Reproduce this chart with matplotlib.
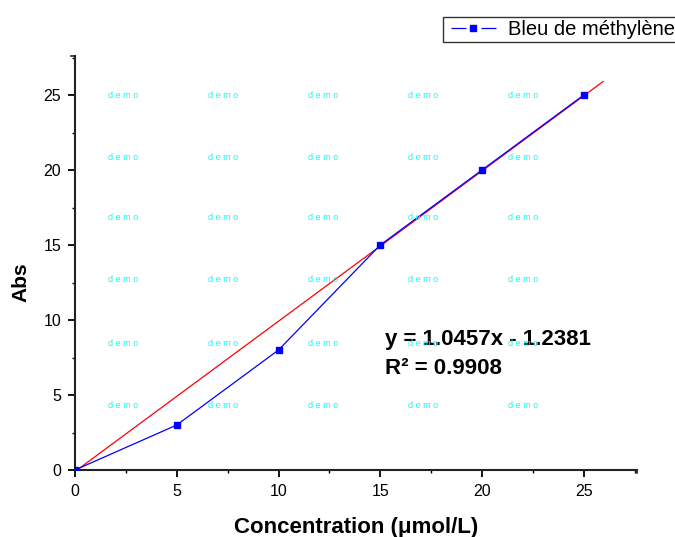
import numpy as np
import matplotlib
matplotlib.use("Agg")
import matplotlib.pyplot as plt
from matplotlib.ticker import MultipleLocator
from matplotlib.lines import Line2D

plt.rcParams['font.family'] = ['Liberation Sans', 'DejaVu Sans']
plt.rcParams['lines.scale_dashes'] = False

# ---- datos ----
concentracion = [0, 5, 10, 15, 20, 25]
absorbancia = [0, 3, 8, 15, 20, 25]

# recta de ajuste (extremos)
ajuste_x = [0.05, 25.95]
ajuste_y = [-0.05, 25.9]

ecuacion = "y = 1.0457x - 1.2381"
r2 = "R² = 0.9908"
etiqueta = "Bleu de méthylène"

fig = plt.figure(figsize=(6.75, 5.37), dpi=100)
ax = fig.add_axes([75/675, 1-470/537, (636.7-75)/675, (470-56)/537])

ax.plot(concentracion, absorbancia, color='blue', linewidth=0.9, marker='s',
        markersize=4.5, zorder=3)
ax.plot(ajuste_x, ajuste_y, color='red', linewidth=0.9, zorder=2)

ax.set_xlim(0, 27.6)
ax.set_ylim(0, 27.6)
ax.xaxis.set_major_locator(MultipleLocator(5))
ax.xaxis.set_minor_locator(MultipleLocator(2.5))
ax.yaxis.set_major_locator(MultipleLocator(5))
ax.yaxis.set_minor_locator(MultipleLocator(2.5))
ax.tick_params(which='major', direction='out', length=5, width=1.3, labelsize=11.5, pad=5)
ax.tick_params(which='minor', direction='out', length=2.5, width=1.0)

for s in ['top', 'right']:
    ax.spines[s].set_visible(False)
for s in ['left', 'bottom']:
    ax.spines[s].set_linewidth(1.5)
    ax.spines[s].set_color('#222222')

# petites marques de fin d'axe (vers l'extérieur)
ax.plot([27.6, 27.6], [0, -0.22], color='#222222', linewidth=1.2, clip_on=False)
ax.plot([0, -0.2], [27.6, 27.6], color='#222222', linewidth=1.2, clip_on=False)

ax.set_xlabel('Concentration (μmol/L)', fontsize=16, fontweight='bold')
ax.set_ylabel('Abs', fontsize=15, fontweight='bold')
ax.xaxis.set_label_coords((356 - 75) / (636.7 - 75), -(528 - 470) / (470 - 56))
ax.yaxis.set_label_coords(-(75 - 21) / (636.7 - 75), (470 - 282) / (470 - 56))
ax.xaxis.label.set_va('center')
ax.yaxis.label.set_va('center')

ax.text(385/675, 1-339/537, ecuacion, transform=fig.transFigure, fontsize=16,
        fontweight='bold', va='center', ha='left', zorder=5)
ax.text(385/675, 1-368/537, r2, transform=fig.transFigure, fontsize=16,
        fontweight='bold', va='center', ha='left', zorder=5)

# filigrane "demo"
for px in [123, 223, 323, 423, 523]:
    for py in [95, 157, 218, 280, 343, 405]:
        fig.text(px/675, 1-py/537, 'd e m o', color='cyan', fontsize=6.5,
                 ha='center', va='center', zorder=0)

# poignée de légende : tiret - carré - tiret
handle = Line2D([], [], color='blue', linewidth=0.9,
                linestyle=(36, (10.8, 10.8, 10.8, 7.2)),
                marker='s', markersize=3.8, markerfacecolor='blue', markeredgecolor='blue')
leg = fig.legend([handle], [etiqueta], loc='upper right', bbox_to_anchor=(1.004, 1-17/537),
                 fontsize=14.5, frameon=True, fancybox=False, edgecolor='black',
                 handlelength=2.73, borderpad=0.15, handletextpad=0.35, borderaxespad=0)
leg.get_frame().set_linewidth(1.0)

fig.savefig("out.png", dpi=100)
